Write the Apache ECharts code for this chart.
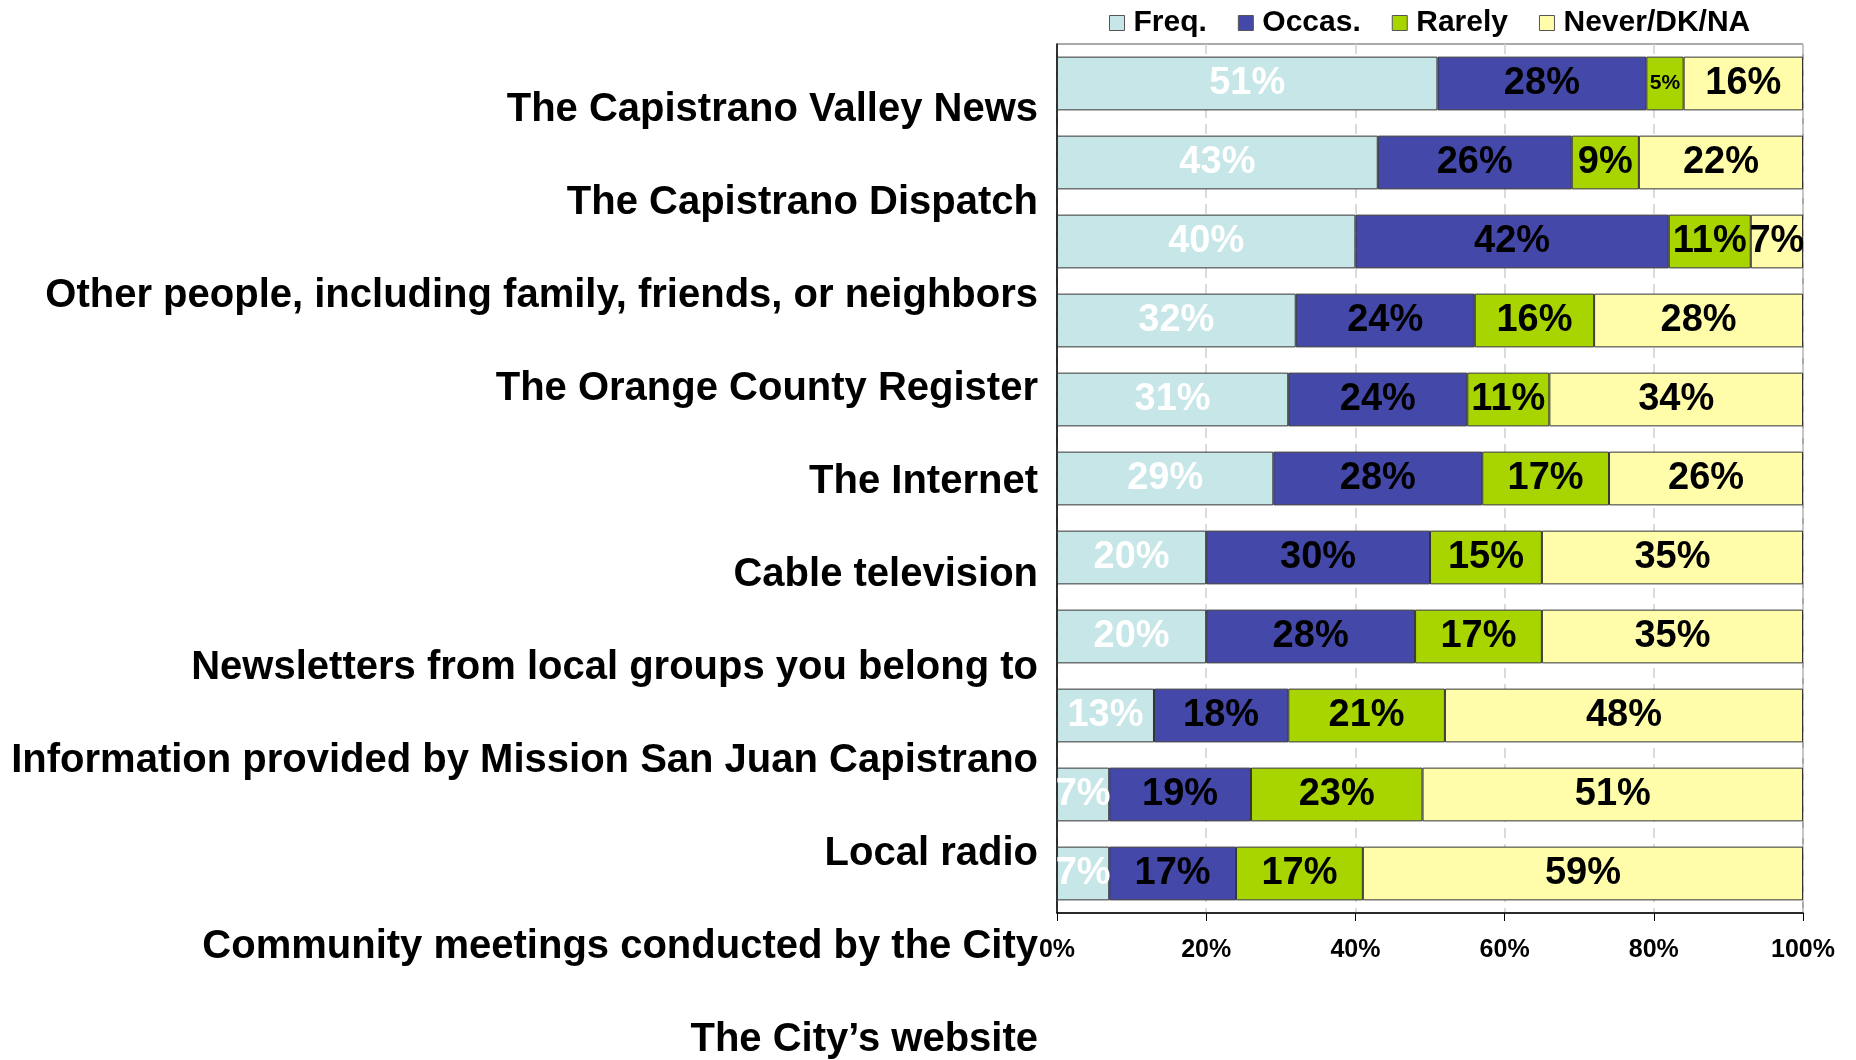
<!DOCTYPE html>
<html>
<head>
  <meta charset="utf-8">
  <title>Sources of information</title>
  <script src="https://cdn.jsdelivr.net/npm/echarts@6/dist/echarts.min.js"></script>
  <style>
    html, body { margin: 0; padding: 0; background: #fff; }
    #chart { width: 1856px; height: 1060px; }
  </style>
</head>
<body>
<div id="chart"></div>
<script type="text/javascript">
// categories, top to bottom
var sources = [
  'The Capistrano Valley News',
  'The Capistrano Dispatch',
  'Other people, including family, friends, or neighbors',
  'The Orange County Register',
  'The Internet',
  'Cable television',
  'Newsletters from local groups you belong to',
  'Information provided by Mission San Juan Capistrano',
  'Local radio',
  'Community meetings conducted by the City',
  'The City\u2019s website'
];
var seriesNames = ['Freq.', 'Occas.', 'Rarely', 'Never/DK/NA'];

// percentages per bar
var freq   = [51, 43, 40, 32, 31, 29, 20, 20, 13, 7, 7];
var occas  = [28, 26, 42, 24, 24, 28, 30, 28, 18, 19, 17];
var rarely = [5, 9, 11, 16, 11, 17, 15, 17, 21, 23, 17];
var never  = [16, 22, 7, 28, 34, 26, 35, 35, 48, 51, 59];

var xTicks = [0, 20, 40, 60, 80, 100];

var colors = ['#c6e6e8', '#4448a8', '#a8d400', '#fffcaa'];
var labelColors = ['#ffffff', '#000000', '#000000', '#000000'];
var FONT = '"Liberation Sans", Arial, sans-serif';

var myChart = echarts.init(document.getElementById('chart'));

function makeSeries(idx, values) {
  return {
    name: seriesNames[idx],
    type: 'bar',
    stack: 'all',
    xAxisIndex: 0,
    yAxisIndex: 0,
    barCategoryGap: '32%',
    itemStyle: { color: colors[idx], borderColor: '#333', borderWidth: 1 },
    label: {
      show: true,
      position: 'inside',
      formatter: '{c}%',
      color: labelColors[idx],
      fontFamily: FONT,
      fontWeight: 'bold',
      fontSize: 38
    },
    data: values.map(function (v) {
      // tiny segment gets a smaller label, as in the original
      if (v <= 5) return { value: v, label: { fontSize: 21 } };
      return v;
    })
  };
}

var option = {
  animation: false,
  backgroundColor: '#fff',
  legend: {
    data: seriesNames,
    left: 1104,
    top: 3,
    itemWidth: 15,
    itemHeight: 15,
    itemGap: 31,
    icon: 'rect',
    itemStyle: { borderColor: '#555', borderWidth: 1 },
    textStyle: {
      fontFamily: FONT,
      fontWeight: 'bold',
      fontSize: 30,
      color: '#000',
      padding: [0, 0, 0, 4]
    }
  },
  grid: [
    { left: 1057, right: 53, top: 44, height: 869, show: true, borderColor: '#555', borderWidth: 1 },
    { left: 1057, right: 53, top: 110, height: 930 }
  ],
  xAxis: [
    {
      type: 'value',
      gridIndex: 0,
      min: xTicks[0],
      max: xTicks[xTicks.length - 1],
      interval: 20,
      axisLine: { show: true, lineStyle: { color: '#000', width: 1.5 } },
      axisTick: { show: true, length: 8, lineStyle: { color: '#000' } },
      splitLine: { show: true, lineStyle: { color: '#d0d0d0', type: [10, 6], width: 1.5 } },
      axisLabel: {
        formatter: '{value}%',
        margin: 25,
        fontFamily: FONT,
        fontWeight: 'bold',
        fontSize: 25,
        color: '#000'
      }
    },
    { type: 'value', gridIndex: 1, show: false }
  ],
  yAxis: [
    {
      type: 'category',
      gridIndex: 0,
      inverse: true,
      data: sources,
      axisLine: { show: true, lineStyle: { color: '#000', width: 1.5 } },
      axisTick: { show: false },
      axisLabel: { show: false }
    },
    {
      // the category names sit on their own, looser scale
      type: 'category',
      gridIndex: 1,
      inverse: true,
      boundaryGap: false,
      data: sources,
      axisLine: { show: false },
      axisTick: { show: false },
      splitLine: { show: false },
      axisLabel: {
        interval: 0,
        margin: 19,
        fontFamily: FONT,
        fontWeight: 'bold',
        fontSize: 40,
        color: '#000'
      }
    }
  ],
  series: [
    makeSeries(0, freq),
    makeSeries(1, occas),
    makeSeries(2, rarely),
    makeSeries(3, never)
  ]
};
myChart.setOption(option);
</script>
</body>
</html>
